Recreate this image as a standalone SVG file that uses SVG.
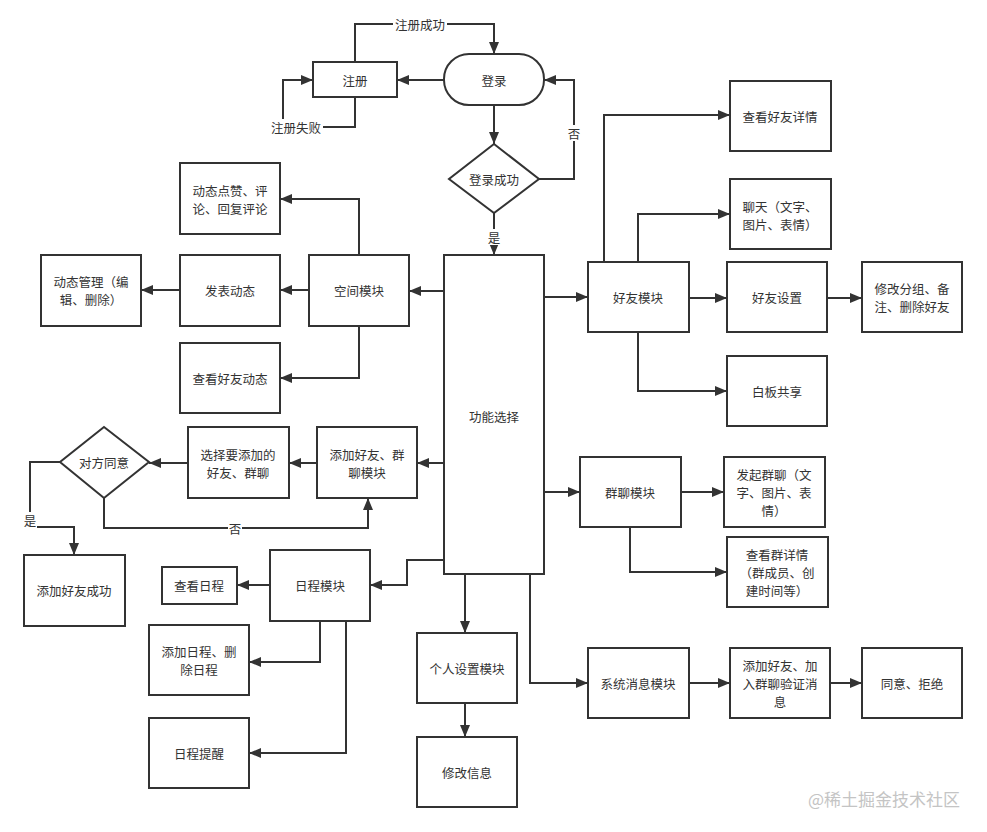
<svg xmlns="http://www.w3.org/2000/svg" width="987" height="832" viewBox="0 0 987 832">
<style>
.n rect,.n polygon{fill:#fff;stroke:#333;stroke-width:2}
.n text,.lb text{font-family:"Noto Sans CJK SC","Liberation Sans",sans-serif;font-size:12.5px;fill:#333;text-anchor:middle;dominant-baseline:central}
.c path{fill:none;stroke:#333;stroke-width:2;marker-end:url(#ah)}
.lb rect{fill:#fff}
.wm{font-family:"Noto Sans CJK SC","Liberation Sans",sans-serif;font-size:17px;fill:#c4c4c4;text-anchor:middle;dominant-baseline:central}
</style>
<defs>
<marker id="ah" viewBox="0 0 12 10" markerWidth="12" markerHeight="10" refX="12" refY="5" orient="auto" markerUnits="userSpaceOnUse">
<path d="M0,0 L12,5 L0,10 z" fill="#333"/>
</marker>
</defs>
<rect width="987" height="832" fill="#fff"/>
<g id="connectors" class="c">
<path d="M355,62 V24 H494 V54"/>
<path d="M444,80 H397"/>
<path d="M355,97 V127 H283 V80 H313"/>
<path d="M494,105 V144"/>
<path d="M539,179 H574 V80 H544"/>
<path d="M494,213 V255"/>
<path d="M444,291 H409"/>
<path d="M359,255 V199 H280"/>
<path d="M309,290 H280"/>
<path d="M180,290 H141"/>
<path d="M359,326 V378 H280"/>
<path d="M544,297 H588"/>
<path d="M604,262 V115 H730"/>
<path d="M638,262 V214 H730"/>
<path d="M689,298 H727"/>
<path d="M827,298 H862"/>
<path d="M638,332 V391 H727"/>
<path d="M444,463 H417"/>
<path d="M317,463 H289"/>
<path d="M188,463 H149"/>
<path d="M104,498 V528 H368 V498"/>
<path d="M60,462 H30 V527 H74 V555"/>
<path d="M544,492 H580"/>
<path d="M681,492 H724"/>
<path d="M630,527 V572 H727"/>
<path d="M444,560 H407 V585 H370"/>
<path d="M270,585 H237"/>
<path d="M320,621 V662 H249"/>
<path d="M346,621 V753 H249"/>
<path d="M465,574 V633"/>
<path d="M465,703 V737"/>
<path d="M530,574 V683 H588"/>
<path d="M689,683 H730"/>
<path d="M830,683 H862"/>
</g>
<g id="labels" class="lb">
<rect x="393" y="16" width="54" height="16"/><text x="420" y="24">注册成功</text>
<rect x="269" y="119" width="54" height="16"/><text x="296" y="127">注册失败</text>
<rect x="567" y="125" width="14" height="16"/><text x="574" y="133">否</text>
<rect x="487" y="229" width="14" height="16"/><text x="494" y="237">是</text>
<rect x="228" y="520" width="14" height="16"/><text x="235" y="528">否</text>
<rect x="23" y="512" width="14" height="16"/><text x="30" y="520">是</text>
</g>
<g id="zhuce" class="n"><rect x="313" y="62" width="84" height="35"/><text x="355" y="80">注册</text></g>
<g id="denglu" class="n"><rect x="444" y="54" width="100" height="51" rx="25" ry="25"/><text x="494" y="80">登录</text></g>
<g id="dlcg" class="n"><polygon points="494,144 539,179 494,213 449,179"/><text x="494" y="179">登录成功</text></g>
<g id="gnxz" class="n"><rect x="444" y="255" width="100" height="319"/><text x="494" y="416">功能选择</text></g>
<g id="kjmk" class="n"><rect x="309" y="255" width="100" height="71"/><text x="359" y="290">空间模块</text></g>
<g id="dzpl" class="n"><rect x="180" y="163" width="100" height="71"/><text x="230" y="190">动态点赞、评</text><text x="230" y="208">论、回复评论</text></g>
<g id="fbdt" class="n"><rect x="180" y="255" width="100" height="71"/><text x="230" y="290">发表动态</text></g>
<g id="dtgl" class="n"><rect x="41" y="255" width="100" height="71"/><text x="91" y="281">动态管理（编</text><text x="91" y="299">辑、删除）</text></g>
<g id="ckhydt" class="n"><rect x="180" y="343" width="100" height="70"/><text x="230" y="378">查看好友动态</text></g>
<g id="hymk" class="n"><rect x="588" y="262" width="101" height="70"/><text x="638" y="297">好友模块</text></g>
<g id="ckhyxq" class="n"><rect x="730" y="81" width="101" height="70"/><text x="780" y="116">查看好友详情</text></g>
<g id="lt" class="n"><rect x="730" y="179" width="101" height="70"/><text x="780" y="206">聊天（文字、</text><text x="780" y="224">图片、表情）</text></g>
<g id="hysz" class="n"><rect x="727" y="262" width="100" height="70"/><text x="777" y="297">好友设置</text></g>
<g id="xgfz" class="n"><rect x="862" y="262" width="100" height="70"/><text x="912" y="288">修改分组、备</text><text x="912" y="306">注、删除好友</text></g>
<g id="bbgx" class="n"><rect x="727" y="356" width="100" height="70"/><text x="777" y="391">白板共享</text></g>
<g id="tjmk" class="n"><rect x="317" y="427" width="100" height="71"/><text x="367" y="454">添加好友、群</text><text x="367" y="472">聊模块</text></g>
<g id="xztj" class="n"><rect x="188" y="427" width="101" height="71"/><text x="238" y="454">选择要添加的</text><text x="238" y="472">好友、群聊</text></g>
<g id="dfty" class="n"><polygon points="104,427 149,462 104,498 60,462"/><text x="104" y="462">对方同意</text></g>
<g id="tjcg" class="n"><rect x="24" y="555" width="101" height="71"/><text x="74" y="590">添加好友成功</text></g>
<g id="qlmk" class="n"><rect x="580" y="457" width="101" height="70"/><text x="630" y="492">群聊模块</text></g>
<g id="fqql" class="n"><rect x="724" y="457" width="101" height="70"/><text x="774" y="474">发起群聊（文</text><text x="774" y="492">字、图片、表</text><text x="774" y="510">情）</text></g>
<g id="ckqxq" class="n"><rect x="727" y="537" width="101" height="70"/><text x="777" y="554">查看群详情</text><text x="777" y="572">（群成员、创</text><text x="777" y="590">建时间等）</text></g>
<g id="rcmk" class="n"><rect x="270" y="550" width="100" height="71"/><text x="320" y="585">日程模块</text></g>
<g id="ckrc" class="n"><rect x="162" y="567" width="75" height="37"/><text x="199" y="585">查看日程</text></g>
<g id="tjrc" class="n"><rect x="149" y="625" width="100" height="70"/><text x="199" y="651">添加日程、删</text><text x="199" y="669">除日程</text></g>
<g id="rctx" class="n"><rect x="149" y="718" width="100" height="70"/><text x="199" y="753">日程提醒</text></g>
<g id="grsz" class="n"><rect x="417" y="633" width="100" height="70"/><text x="467" y="668">个人设置模块</text></g>
<g id="xgxx" class="n"><rect x="417" y="737" width="100" height="70"/><text x="467" y="772">修改信息</text></g>
<g id="xtxx" class="n"><rect x="588" y="648" width="101" height="70"/><text x="638" y="683">系统消息模块</text></g>
<g id="yzxx" class="n"><rect x="730" y="648" width="100" height="70"/><text x="780" y="665">添加好友、加</text><text x="780" y="683">入群聊验证消</text><text x="780" y="701">息</text></g>
<g id="tyjj" class="n"><rect x="862" y="648" width="100" height="70"/><text x="912" y="683">同意、拒绝</text></g>
<text class="wm" x="884" y="798">@稀土掘金技术社区</text>
</svg>
